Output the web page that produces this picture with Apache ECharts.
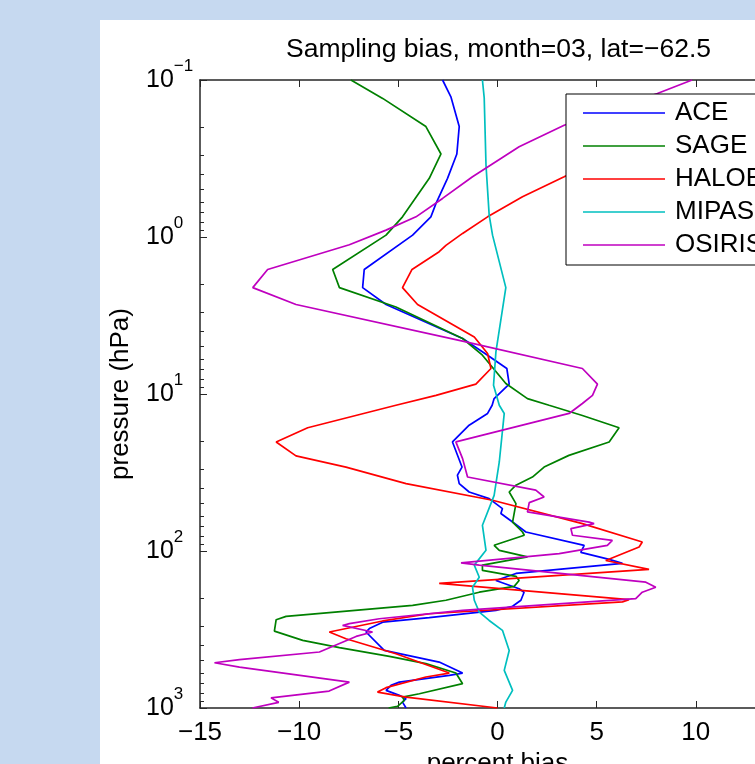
<!DOCTYPE html>
<html>
<head>
<meta charset="utf-8">
<script src="https://cdn.jsdelivr.net/npm/echarts@6/dist/echarts.min.js"></script>
<style>
  html, body { margin: 0; padding: 0; background: #c6d9f0; }
  #panel { position: absolute; left: 100px; top: 20px; right: 0; bottom: 0; background: #fff; }
  #chart { position: absolute; left: 0; top: 0; width: 755px; height: 764px; }
</style>
</head>
<body>
<div id="panel"></div>
<div id="chart"></div>
<script>
// [percent bias, pressure hPa]
const aceData = [[-2.77,0.1],[-2.35,0.128],[-1.93,0.198],[-2.05,0.296],[-2.52,0.423],[-3.10,0.611],[-3.36,0.744],[-4.28,0.973],[-6.72,1.61],[-6.80,2.10],[-5.62,2.69],[-1.76,4.43],[-0.50,5.66],[0.47,6.88],[0.59,8.66],[-0.17,10.7],[-0.27,11.8],[-0.50,13.3],[-1.43,15.8],[-2.27,20.2],[-1.79,29.2],[-2.02,32.9],[-1.93,37.2],[-1.43,42.1],[-0.42,46.4],[0.25,53.7],[0.17,57.7],[0.76,65.4],[1.43,75.7],[4.37,92.0],[4.20,102],[5.63,113],[6.30,120],[0.93,139],[-0.08,154],[1.09,174],[1.34,183],[1.18,206],[0.76,225],[-0.08,239],[-3.44,266],[-5.79,284],[-6.46,312],[-6.63,328],[-5.71,430],[-2.94,510],[-1.76,599],[-2.43,620],[-4.95,684],[-5.37,718],[-5.62,772],[-4.95,831],[-4.61,872],[-4.79,917],[-4.61,1000]];
const sageData = [[-7.39,0.1],[-5.79,0.131],[-3.61,0.198],[-2.85,0.296],[-3.44,0.423],[-4.79,0.744],[-5.62,0.973],[-8.31,1.61],[-7.97,2.10],[-5.12,2.79],[-1.76,4.43],[-0.76,5.66],[0.42,8.57],[1.51,10.7],[2.60,11.8],[4.28,13.7],[6.13,16.4],[5.63,20.2],[3.60,24.6],[2.35,29.2],[1.76,33.8],[0.93,38.1],[0.59,42.1],[0.93,49.9],[0.76,65.4],[1.26,75.7],[1.35,79.4],[-0.17,92.0],[0.09,99.0],[1.51,109],[-0.76,123],[-0.76,133],[0.93,145],[1.09,154],[0.84,168],[-0.92,183],[-2.60,206],[-4.28,222],[-10.66,261],[-11.16,274],[-11.25,324],[-9.82,371],[-7.97,413],[-5.45,469],[-3.61,522],[-2.10,599],[-1.76,700],[-3.94,811],[-4.79,852],[-4.87,872],[-4.70,895],[-5.04,975],[-5.49,1000]];
const haloeData = [[15.5,0.1],[10.16,0.18],[6.13,0.279],[3.36,0.413],[1.26,0.554],[-0.50,0.744],[-1.76,0.949],[-2.60,1.13],[-2.94,1.24],[-4.31,1.61],[-4.79,2.10],[-4.03,2.69],[-1.17,4.33],[-0.50,5.52],[-0.33,6.88],[-1.09,8.66],[-3.10,10.2],[-5.12,11.8],[-9.57,16.4],[-11.16,20.2],[-10.16,24.8],[-7.64,29.2],[-4.61,37.2],[-0.25,47.5],[4.28,66.9],[7.30,87.6],[7.14,94.3],[5.46,115],[7.64,131],[-2.94,161],[6.63,204],[6.30,211],[-3.44,251],[-5.79,279],[-8.48,328],[-7.64,362],[-5.12,451],[-2.43,599],[-3.61,635],[-5.62,742],[-6.05,792],[-4.61,852],[0.0,1000]];
const mipasData = [[-0.76,0.1],[-0.67,0.13],[-0.58,0.348],[-0.42,0.725],[-0.25,0.973],[0.42,2.10],[-0.08,5.39],[-0.20,8.79],[0.09,11.8],[0.34,13.3],[0.09,27.1],[-0.17,44.2],[-0.76,68.6],[-0.58,99.0],[-1.17,123],[-0.92,147],[-1.26,170],[-1.17,206],[-0.92,245],[-0.42,277],[0.25,320],[0.59,430],[0.34,576],[0.76,772],[0.42,917],[0.34,1000]];
const osirisData = [[9.81,0.1],[8.06,0.122],[3.36,0.194],[1.09,0.266],[-1.26,0.413],[-2.77,0.568],[-4.11,0.744],[-5.62,0.904],[-7.47,1.12],[-11.59,1.61],[-12.34,2.10],[-10.16,2.69],[-1.76,4.61],[4.28,6.88],[5.04,8.66],[4.79,10.2],[4.28,11.5],[3.61,13.3],[-2.10,20.2],[-1.76,25.8],[-1.51,33.8],[1.93,41.0],[2.35,45.3],[1.60,49.2],[1.51,56.4],[4.62,65.4],[4.87,66.9],[3.70,72.0],[3.78,79.4],[5.79,85.5],[5.54,92.0],[3.11,104],[-1.84,119],[-0.92,123],[7.48,158],[7.98,170],[7.30,183],[6.97,201],[-1.76,239],[-5.96,270],[-7.47,290],[-7.81,298],[-6.30,328],[-7.13,350],[-8.98,440],[-13.01,492],[-14.27,515],[-13.01,549],[-7.47,684],[-8.49,780],[-11.42,862],[-11.03,920],[-12.36,1000]];

const seriesNames = ["ACE", "SAGE", "HALOE", "MIPAS", "OSIRIS"];
const seriesColors = ["#0000ff", "#008000", "#ff0000", "#00bfbf", "#bf00bf"];
const allData = [aceData, sageData, haloeData, mipasData, osirisData];

const font = "'Liberation Sans', Arial, Helvetica, sans-serif";
const minus = (v) => (v < 0 ? "\u2212" + -v : String(v));
const axisColor = "#262626";

const chart = echarts.init(document.getElementById("chart"), null, { renderer: "canvas" });

const option = {
  animation: false,
  backgroundColor: "transparent",
  textStyle: { fontFamily: font },
  graphic: [
    {
      type: "text",
      x: 498.5,
      y: 50,
      style: {
        text: "Sampling bias, month=03, lat=\u221262.5",
        fill: "#000",
        font: "26.5px " + font,
        align: "center",
        verticalAlign: "middle",
      },
    },
  ],
  grid: { left: 200, top: 80, width: 595, height: 628, outerBoundsMode: "none", containLabel: false },
  legend: {
    orient: "vertical",
    left: 566,
    top: 94,
    icon: "rect",
    itemWidth: 82,
    itemHeight: 1.5,
    itemGap: 7,
    padding: [6, 60, 7, 17],
    backgroundColor: "#fff",
    borderColor: "#000",
    borderWidth: 1,
    borderRadius: 0,
    textStyle: { fontSize: 26, color: "#000", fontFamily: font, lineHeight: 26, padding: [0, 0, 0, 5] },
    data: seriesNames,
  },
  xAxis: [
    {
      type: "value",
      min: -15,
      max: 15,
      interval: 5,
      name: "percent bias",
      nameLocation: "middle",
      nameGap: 38,
      nameTextStyle: { fontSize: 26, color: "#000", fontFamily: font },
      axisLine: { onZero: false, lineStyle: { color: axisColor, width: 1.5 } },
      axisTick: { inside: true, length: 7, lineStyle: { color: axisColor } },
      axisLabel: { fontSize: 26, color: "#000", margin: 12, formatter: minus },
      splitLine: { show: false },
    },
    {
      type: "value",
      position: "top",
      min: -15,
      max: 15,
      interval: 5,
      axisLine: { onZero: false, lineStyle: { color: axisColor, width: 1.5 } },
      axisTick: { inside: true, length: 7, lineStyle: { color: axisColor } },
      axisLabel: { show: false },
      splitLine: { show: false },
    },
  ],
  yAxis: {
    type: "log",
    logBase: 10,
    inverse: true,
    min: 0.1,
    max: 1000,
    position: "left",
    name: "pressure (hPa)",
    nameLocation: "middle",
    nameGap: 66,
    nameTextStyle: { fontSize: 26, color: "#000", fontFamily: font },
    axisLine: { onZero: false, lineStyle: { color: axisColor, width: 1.5 } },
    axisTick: { inside: true, length: 7, lineStyle: { color: axisColor } },
    minorTick: { show: true, splitNumber: 9, length: 4, lineStyle: { color: axisColor } },
    axisLabel: {
      align: "left",
      margin: 54,
      formatter: (v) => {
        const e = Math.round(Math.log10(v));
        return "{b|10}{s|" + minus(e) + "}";
      },
      rich: {
        b: { fontSize: 25, color: "#000", fontFamily: font },
        s: { fontSize: 17, color: "#000", fontFamily: font, padding: [0, 0, 27, 0] },
      },
    },
    splitLine: { show: false },
    minorSplitLine: { show: false },
  },
  series: allData.map((d, i) => ({
    name: seriesNames[i],
    type: "line",
    data: d,
    symbol: "none",
    color: seriesColors[i],
    lineStyle: { width: 1.7, color: seriesColors[i] },
    z: 2,
  })),
};

chart.setOption(option);
</script>
</body>
</html>
